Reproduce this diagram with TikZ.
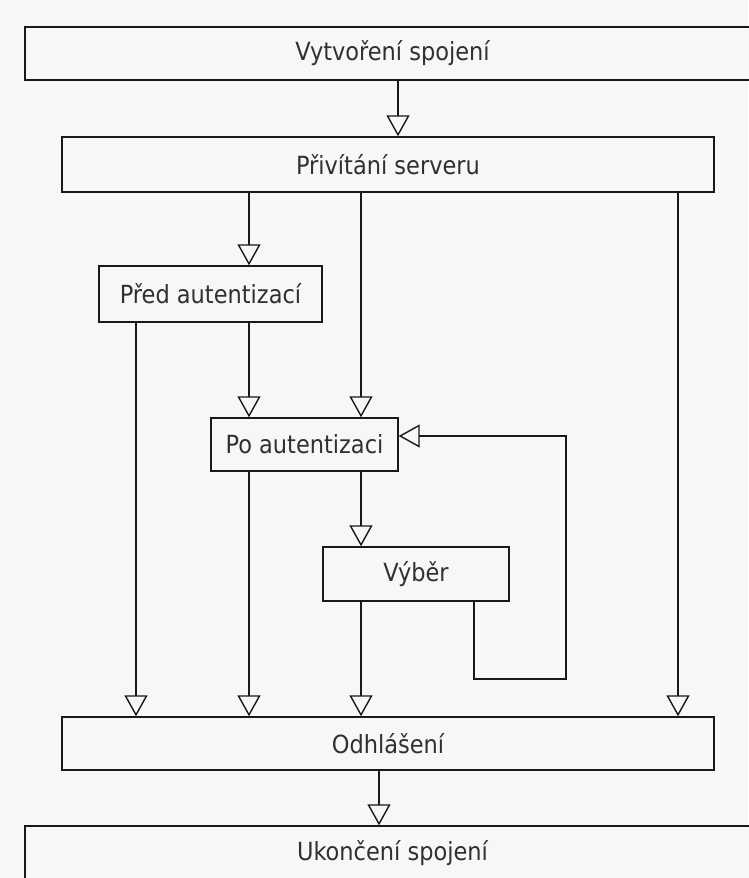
\documentclass[tikz,border=0pt]{standalone}
\usepackage{fontspec}
\setmainfont{DejaVu Sans Condensed}
\usetikzlibrary{arrows.meta}
\definecolor{bg}{RGB}{245,248,245}
\definecolor{ink}{RGB}{25,25,25}
\begin{document}
\begin{tikzpicture}[x=1pt,y=1pt,
  box/.style={draw=ink,line width=1.4pt,fill=bg,inner sep=0pt,font=\fontsize{25}{28}\selectfont,text=ink!90},
  flow/.style={draw=ink,line width=1.4pt,-{Triangle[open,length=21pt,width=23pt,line width=1.4pt]}},
  plain/.style={draw=ink,line width=1.4pt}]
\fill[bg] (0,0) rectangle (748,-878);
\useasboundingbox (0,0) rectangle (748,-878);
\node[box,minimum width=735pt,minimum height=53pt] (top) at (392.5,-53.5) {Vytvoření spojení};
\node[box,minimum width=652pt,minimum height=55pt] (pri) at (388,-164.5) {Přivítání serveru};
\node[box,minimum width=223pt,minimum height=56pt] (pred) at (210.5,-294) {Před autentizací};
\node[box,minimum width=187pt,minimum height=53pt] (po) at (304.5,-444.5) {Po autentizaci};
\node[box,minimum width=186pt,minimum height=54pt] (vyb) at (416,-574) {Výběr};
\node[box,minimum width=652pt,minimum height=53pt] (odh) at (388,-743.5) {Odhlášení};
\node[box,minimum width=735pt,minimum height=64pt] (uk) at (392.5,-858) {};
\node[font=\fontsize{25}{28}\selectfont,text=ink!90,inner sep=0pt] (ukt) at (392.5,-853) {Ukončení spojení};
\coordinate (xa) at (136,0);
\coordinate (xb) at (249,0);
\coordinate (xc) at (361,0);
\coordinate (xd) at (678,0);
\coordinate (xe) at (398,0);
\coordinate (xf) at (379,0);
\coordinate (xg) at (474,0);
\coordinate (lb) at (566,-679);
\coordinate (ly) at (0,-436);
\draw[flow] (top.south -| xe) -- (pri.north -| xe);
\draw[flow] (pri.south -| xb) -- (pred.north -| xb);
\draw[flow] (pri.south -| xc) -- (po.north -| xc);
\draw[flow] (pri.south -| xd) -- (odh.north -| xd);
\draw[flow] (pred.south -| xa) -- (odh.north -| xa);
\draw[flow] (pred.south -| xb) -- (po.north -| xb);
\draw[flow] (po.south -| xb) -- (odh.north -| xb);
\draw[flow] (po.south -| xc) -- (vyb.north -| xc);
\draw[flow] (vyb.south -| xc) -- (odh.north -| xc);
\draw[flow] (vyb.south -| xg) |- (lb) |- (po.east |- ly);
\draw[flow] (odh.south -| xf) -- (uk.north -| xf);
\end{tikzpicture}
\end{document}
